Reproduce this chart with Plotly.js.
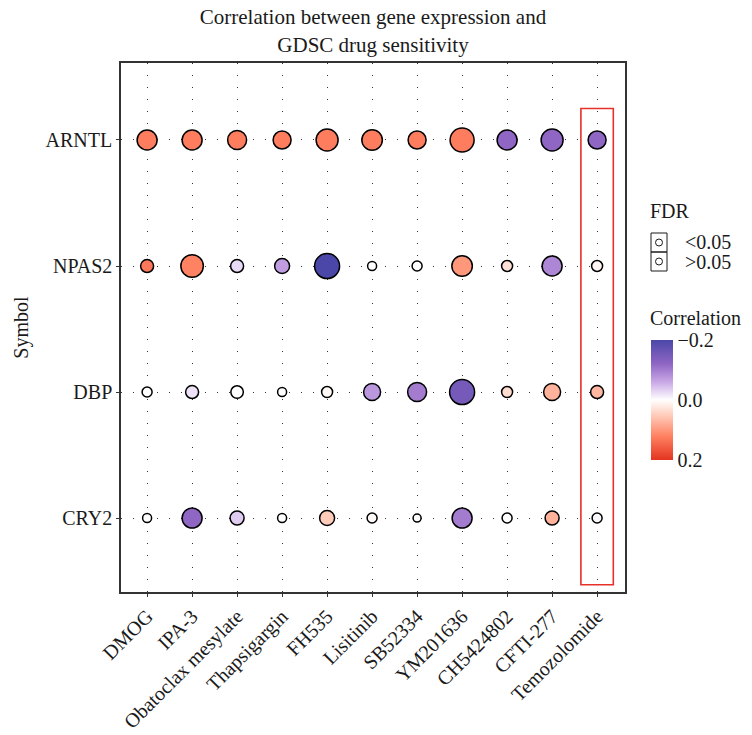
<!DOCTYPE html>
<html>
<head>
<meta charset="utf-8">
<script src="https://cdn.plot.ly/plotly-3.0.1.min.js"></script>
<style>html,body{margin:0;padding:0;background:#fff;}#chart{width:752px;height:735px;}</style>
</head>
<body>
<div id="chart"></div>
<script>
// ---- data ----
const drugs = ['DMOG','IPA-3','Obatoclax mesylate','Thapsigargin','FH535','Lisitinib','SB52334','YM201636','CH5424802','CFTI-277','Temozolomide'];
const genes = ['ARNTL','NPAS2','DBP','CRY2'];

// correlation (colour)
const corARNTL = [0.125,0.125,0.125,0.125,0.125,0.125,0.125,0.125,-0.12,-0.12,-0.12];
const corNPAS2 = [0.13,0.12,-0.025,-0.07,-0.2,0.0,0.0,0.1,0.03,-0.09,0.01];
const corDBP   = [0.0,-0.02,0.0,0.0,0.005,-0.075,-0.1,-0.15,0.035,0.075,0.07];
const corCRY2  = [0.0,-0.12,-0.035,0.0,0.05,0.005,0.0,-0.1,0.0,0.075,-0.005];

// -log10(FDR) (bubble size)
const fdrARNTL = [7,7,6.5,6,8,7.25,6,9,7,8,6];
const fdrNPAS2 = [3.5,8.25,3.5,4.5,9.5,1.5,2,7.25,2.5,7,2.5];
const fdrDBP   = [2,3.5,3.25,1.5,2.5,5.5,6.5,9.5,2.5,5.5,3.5];
const fdrCRY2  = [1.5,7,4,1.5,4.5,2,1,7,2,4,2];

const corRows = [corARNTL, corNPAS2, corDBP, corCRY2];
const fdrRows = [fdrARNTL, fdrNPAS2, fdrDBP, fdrCRY2];

const xs = [], ys = [], cs = [], ss = [];
genes.forEach((g, gi) => {
  drugs.forEach((d, di) => {
    xs.push(d); ys.push(g);
    cs.push(-corRows[gi][di]);          // negated so -0.2 is on top of the colour bar
    ss.push(6 + 2 * fdrRows[gi][di]);
  });
});

const FONT = 'Liberation Serif, Times New Roman, serif';
const colorscale = [
  [0, '#E3341F'], [0.2, '#FF8262'], [0.35, '#FFC2AE'], [0.5, '#FFFFFF'],
  [0.65, '#C9A8E6'], [0.8, '#9066C4'], [1, '#4B47A8']
];

const trace = {
  type: 'scatter', mode: 'markers', x: xs, y: ys,
  marker: {
    size: ss, sizemode: 'diameter', color: cs, cmin: -0.2, cmax: 0.2, opacity: 1,
    colorscale: colorscale, showscale: true,
    line: {color: '#000', width: 1.5},
    colorbar: {
      x: 1.0516, xanchor: 'left', xref: 'paper', xpad: 0, ypad: 0, thickness: 22,
      y: 0.363, yanchor: 'middle', len: 120, lenmode: 'pixels',
      outlinewidth: 0, ticks: '', tickvals: [0.2, 0, -0.2], ticktext: ['\u22120.2', '0.0', '0.2'],
      tickfont: {family: FONT, size: 20, color: '#1a1a1a'}, ticklabelpad: 6
    }
  },
  hoverinfo: 'x+y', showlegend: false, cliponaxis: false
};

const px = p => (p - 121) / 504;
const py = p => (592 - p) / 529;

const layout = {
  width: 752, height: 735,
  margin: {l: 121, r: 127, t: 63, b: 143},
  paper_bgcolor: '#fff', plot_bgcolor: '#fff',
  font: {family: FONT, color: '#1a1a1a', size: 20},
  title: {
    text: 'Correlation between gene expression and<br>GDSC drug sensitivity',
    x: 0.5, xref: 'paper', xanchor: 'center', y: 0.967, yref: 'container', yanchor: 'top',
    font: {family: FONT, size: 21, color: '#1a1a1a'}
  },
  xaxis: {
    type: 'category', categoryorder: 'array', categoryarray: drugs,
    range: [-0.58, 10.62], tickangle: -45,
    showline: true, mirror: true, linecolor: '#333', linewidth: 1.5,
    ticks: 'outside', ticklen: 3, tickcolor: '#333',
    showgrid: true, gridcolor: '#333', gridwidth: 1, griddash: '1px,11px',
    zeroline: false, tickfont: {family: FONT, size: 20, color: '#1a1a1a'}
  },
  yaxis: {
    type: 'category', categoryorder: 'array', categoryarray: genes,
    range: [3.587, -0.611],
    showline: true, mirror: true, linecolor: '#333', linewidth: 1.5,
    ticks: 'outside', ticklen: 3, tickcolor: '#333',
    showgrid: true, gridcolor: '#333', gridwidth: 1, griddash: '1px,11px',
    zeroline: false, tickfont: {family: FONT, size: 20, color: '#1a1a1a'},
    title: {text: 'Symbol', standoff: 12, font: {family: FONT, size: 20, color: '#1a1a1a'}}
  },
  shapes: [
    {type: 'rect', xref: 'x', yref: 'y', x0: 9.64, x1: 10.36, y0: -0.25, y1: 3.53,
     line: {color: '#E8302A', width: 1.6}, fillcolor: 'rgba(0,0,0,0)', layer: 'above'},
    {type: 'rect', xref: 'paper', yref: 'paper', x0: px(651), x1: px(667), y0: py(233), y1: py(252),
     line: {color: '#1a1a1a', width: 1}, fillcolor: 'rgba(0,0,0,0)'},
    {type: 'rect', xref: 'paper', yref: 'paper', x0: px(651), x1: px(667), y0: py(252), y1: py(271),
     line: {color: '#1a1a1a', width: 1}, fillcolor: 'rgba(0,0,0,0)'},
    {type: 'circle', xref: 'paper', yref: 'paper', x0: px(655.5), x1: px(662.5), y0: py(239), y1: py(246),
     line: {color: '#1a1a1a', width: 1}, fillcolor: 'rgba(0,0,0,0)'},
    {type: 'circle', xref: 'paper', yref: 'paper', x0: px(655.5), x1: px(662.5), y0: py(258), y1: py(265),
     line: {color: '#1a1a1a', width: 1}, fillcolor: 'rgba(0,0,0,0)'}
  ],
  annotations: [
    {text: 'FDR', xref: 'paper', yref: 'paper', x: px(648), y: py(211), xanchor: 'left', yanchor: 'middle', showarrow: false, font: {family: FONT, size: 20}},
    {text: '&lt;0.05', xref: 'paper', yref: 'paper', x: px(683), y: py(242), xanchor: 'left', yanchor: 'middle', showarrow: false, font: {family: FONT, size: 20}},
    {text: '&gt;0.05', xref: 'paper', yref: 'paper', x: px(683), y: py(262), xanchor: 'left', yanchor: 'middle', showarrow: false, font: {family: FONT, size: 20}},
    {text: 'Correlation', xref: 'paper', yref: 'paper', x: px(648), y: py(318), xanchor: 'left', yanchor: 'middle', showarrow: false, font: {family: FONT, size: 20}}
  ]
};

Plotly.newPlot('chart', [trace], layout, {displayModeBar: false, responsive: false});
</script>
</body>
</html>
